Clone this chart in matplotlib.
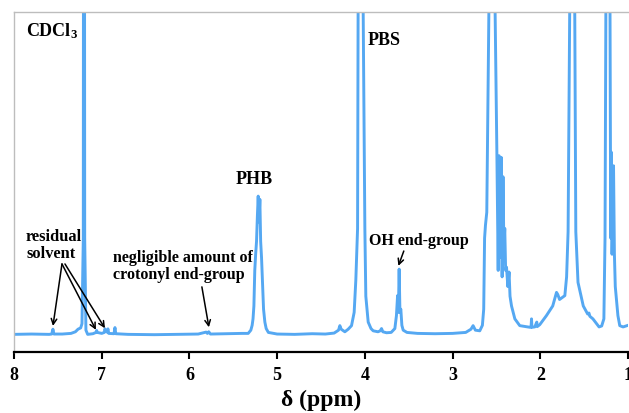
import matplotlib
matplotlib.use("Agg")
import matplotlib.pyplot as plt

plt.rcParams['font.family'] = ['Liberation Serif', 'DejaVu Serif']
plt.rcParams['font.weight'] = 'bold'
plt.rcParams['mathtext.fontset'] = 'custom'
plt.rcParams['mathtext.rm'] = 'Liberation Serif:bold'
plt.rcParams['mathtext.default'] = 'rm'

# chemical shift (ppm) and intensity
ppm = [8.00, 7.80, 7.60, 7.57, 7.556, 7.545, 7.45, 7.35, 7.30, 7.27, 7.24, 7.225, 7.21, 7.202, 7.194, 7.18,
       7.16, 7.10, 7.065, 7.058, 7.05, 7.00, 6.97, 6.963, 6.955, 6.94, 6.929, 6.92, 6.86, 6.849, 6.84,
       6.70, 6.40, 6.10, 5.90, 5.81, 5.795, 5.78, 5.76, 5.60, 5.40,
       5.33, 5.30, 5.285, 5.275, 5.265, 5.255, 5.245, 5.235, 5.225, 5.216, 5.207, 5.197, 5.188, 5.178,
       5.168, 5.155, 5.14, 5.125, 5.10, 5.00, 4.80, 4.60,
       4.45, 4.35, 4.30, 4.285, 4.27, 4.228, 4.19, 4.152, 4.122, 4.103, 4.083, 4.077, 4.05, 4.019, 4.00,
       3.989, 3.962, 3.93, 3.905, 3.85, 3.825, 3.81, 3.795, 3.753, 3.70, 3.658, 3.64, 3.627, 3.618,
       3.609, 3.60, 3.59, 3.578, 3.563, 3.52, 3.40, 3.20, 3.00, 2.85, 2.79, 2.766, 2.74, 2.69,
       2.66, 2.645, 2.635, 2.625, 2.61, 2.585, 2.55, 2.515, 2.495, 2.48, 2.47, 2.455, 2.445, 2.435,
       2.425, 2.415, 2.405, 2.395, 2.385, 2.37, 2.356, 2.345, 2.328, 2.29, 2.234, 2.12, 2.105, 2.100,
       2.095, 2.063, 2.040, 2.035, 2.006, 1.93, 1.858, 1.815, 1.80, 1.78, 1.72, 1.70, 1.683, 1.664,
       1.64, 1.607, 1.595, 1.57, 1.51, 1.46, 1.445, 1.435, 1.40, 1.33, 1.30, 1.275, 1.262, 1.252,
       1.24, 1.228, 1.215, 1.205, 1.197, 1.19, 1.182, 1.165, 1.155, 1.145, 1.132, 1.115, 1.094,
       1.056, 1.01, 1.00]
intensity = [0.2, 0.3, 0.2, 0.3, 1.8, 0.3, 0.3, 0.5, 1.0, 1.8, 2.2, 3.5, 30, 400, 30, 1.5,
             0.2, 0.4, 0.8, 1.4, 0.8, 0.5, 0.8, 1.9, 1.2, 0.9, 1.9, 0.5, 0.4, 2.3, 0.4,
             0.2, 0.1, 0.2, 0.3, 0.9, 0.5, 1.0, 0.3, 0.4, 0.5,
             0.5, 1.5, 3, 5, 9, 20, 25, 29, 37, 43, 35, 42, 29, 24,
             17, 8, 4, 2, 0.8, 0.3, 0.2, 0.4,
             0.3, 0.6, 1.5, 2.9, 1.8, 1.0, 1.8, 2.9, 7, 17, 33, 100, 400, 100, 33,
             12, 4, 2, 1.3, 1.0, 1.3, 2.0, 1.0, 0.7, 0.8, 2, 6, 12.2, 7,
             20.4, 7, 8, 3, 1.5, 0.8, 0.5, 0.4, 0.5, 0.8, 1.8, 2.9, 1.5, 1.3,
             3, 8, 30, 34, 38, 100, 400, 100, 56.6, 20, 55.5, 24, 55, 18,
             49, 27, 33, 20, 21, 15, 19.5, 12, 9, 5, 2.9, 2.4, 2.4, 5,
             2.4, 2.5, 4, 2.6, 3.2, 6, 9, 13.2, 12.5, 11, 12.2, 18, 32, 100,
             400, 100, 32, 16.3, 9, 6.5, 6.8, 5.8, 5, 2.5, 2.8, 5, 30, 100,
             400, 150, 400, 100, 30, 56.6, 25, 52.4, 25, 15, 11, 6, 2.9,
             2.5, 2.9, 3.0]

xticks = [8, 7, 6, 5, 4, 3, 2, 1]

fig = plt.figure(figsize=(6.29, 4.14), dpi=100)
ax = fig.add_axes([14/629, 61/414, 614/629, 340/414])
ax.plot(ppm, intensity, color='#55a8f2', lw=2.1, solid_joinstyle='round')
ax.set_xlim(8, 1)
ax.set_ylim(-5.26, 100)
ax.set_xticks(xticks)
ax.set_xticklabels([str(t) for t in xticks], fontsize=13, fontweight='bold')
ax.set_yticks([])
ax.tick_params(axis='x', direction='out', length=5, width=1.5, pad=5, color='black')
for s in ['left', 'top']:
    ax.spines[s].set_color('#bdbdbd')
    ax.spines[s].set_linewidth(1.0)
ax.spines['right'].set_visible(False)
ax.spines['bottom'].set_color('black')
ax.spines['bottom'].set_linewidth(1.6)
ax.set_xlabel('δ (ppm)', fontsize=17, fontweight='bold', labelpad=4)

ax.text(7.567, 94.4, 'CDCl$_3$', fontsize=13, fontweight='bold', ha='center', va='center')
ax.text(3.784, 91.6, 'PBS', fontsize=13, fontweight='bold', ha='center', va='center')
ax.text(5.265, 48.3, 'PHB', fontsize=13, fontweight='bold', ha='center', va='center')
ax.text(7.863, 27.9, 'residual\nsolvent', fontsize=11.8, fontweight='bold', ha='left', va='center',
        linespacing=1.1)
ax.text(6.872, 21.4, 'negligible amount of\ncrotonyl end-group', fontsize=11.5, fontweight='bold',
        ha='left', va='center', linespacing=1.1)
ax.text(3.385, 29.4, 'OH end-group', fontsize=11.5, fontweight='bold', ha='center', va='center')

ap = dict(arrowstyle='->', lw=1.1, color='black', shrinkA=0, shrinkB=0, mutation_scale=10)
ax.annotate('', xy=(7.556, 2.8), xytext=(7.453, 22.0), arrowprops=ap)
ax.annotate('', xy=(7.066, 1.6), xytext=(7.453, 22.0), arrowprops=ap)
ax.annotate('', xy=(6.963, 2.1), xytext=(7.419, 22.0), arrowprops=ap)
ax.annotate('', xy=(5.778, 2.4), xytext=(5.858, 14.9), arrowprops=ap)
ax.annotate('', xy=(3.618, 21.4), xytext=(3.556, 26.0), arrowprops=ap)

fig.savefig('out.png', dpi=100)
